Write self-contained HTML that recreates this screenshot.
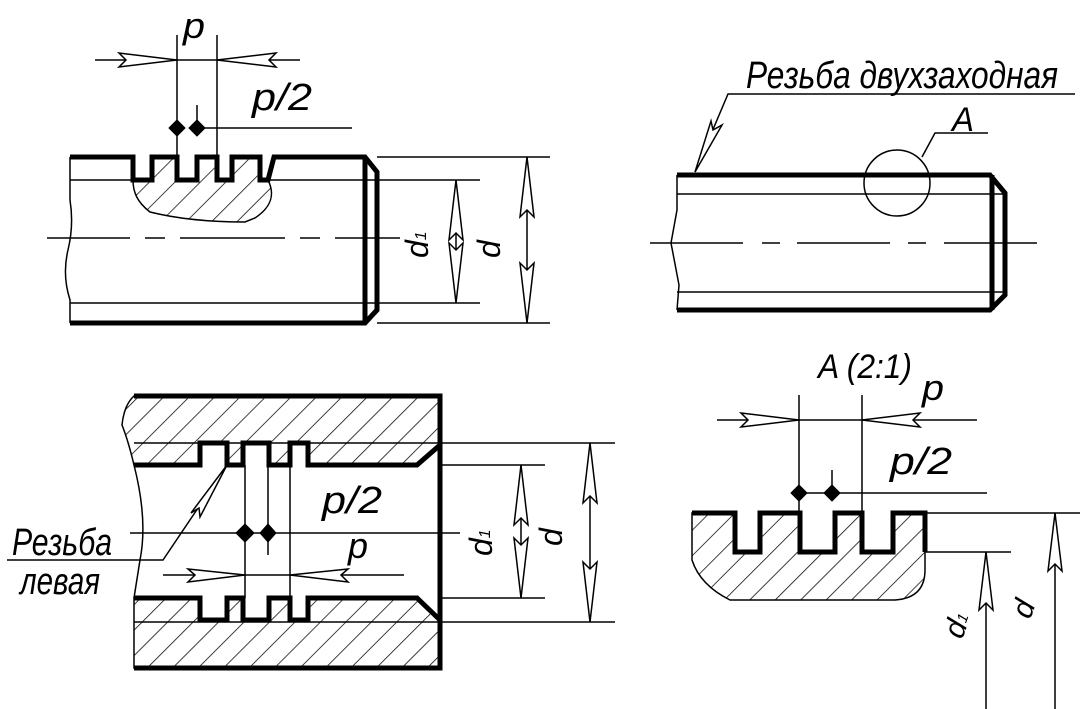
<!DOCTYPE html>
<html><head><meta charset="utf-8"><style>
html,body{margin:0;padding:0;background:#fff;}
svg{display:block;}
text{font-family:"Liberation Sans","DejaVu Sans",sans-serif;font-style:italic;fill:#000;}
</style></head><body>
<svg width="1085" height="709" viewBox="0 0 1085 709" xmlns="http://www.w3.org/2000/svg">
<defs>
<pattern id="h" patternUnits="userSpaceOnUse" width="18" height="18" patternTransform="rotate(45)">
<line x1="0" y1="0" x2="0" y2="18" stroke="#000" stroke-width="1.5"/>
</pattern>
</defs>
<g fill="none" stroke="#000" stroke-linejoin="miter">

<!-- ============ TOP LEFT ============ -->
<path d="M133,180 L152,180 L152,157 L177,157 L177,180 L197,180 L197,157 L217,157 L217,180 L232,180 L232,157 L260,157 L260,180 L268,180 C276,196 270,208 255,218 L245,222 Q190,222 150,212 C137,202 133,192 133,180 Z" fill="url(#h)" stroke-width="1.5"/>
<path d="M70,157 L133,157 L133,180 L152,180 L152,157 L177,157 L177,180 L197,180 L197,157 L217,157 L217,180 L232,180 L232,157 L260,157 L260,180 L268,180 L274,157 L365,157 L377,172 L377,310 L365,323 L70,323" stroke-width="5"/>
<line x1="365" y1="157" x2="365" y2="323" stroke-width="5"/>
<path d="M70,157 L70,200 Q74,225 68,250 Q62,275 70,300 L70,323" stroke-width="1.5"/>
<line x1="70" y1="180" x2="133" y2="180" stroke-width="1.5"/>
<line x1="268" y1="180" x2="480" y2="180" stroke-width="1.5"/>
<line x1="70" y1="303" x2="480" y2="303" stroke-width="1.5"/>
<line x1="377" y1="157" x2="550" y2="157" stroke-width="1.5"/>
<line x1="377" y1="323" x2="550" y2="323" stroke-width="1.5"/>
<path d="M47,238 L130,238 M145,238 L165,238 M180,238 L285,238 M300,238 L320,238 M335,238 L400,238" stroke-width="1.5"/>
<line x1="177" y1="35" x2="177" y2="157" stroke-width="1.5"/>
<line x1="217" y1="35" x2="217" y2="157" stroke-width="1.5"/>
<line x1="95" y1="60" x2="300" y2="60" stroke-width="1.5"/>
<path d="M177,60 L119,53 L126,60 L119,67 Z" fill="#fff" stroke-width="1.5"/>
<path d="M217,60 L276,53 L269,60 L276,67 Z" fill="#fff" stroke-width="1.5"/>
<line x1="197" y1="105" x2="197" y2="128" stroke-width="1.5"/>
<line x1="197" y1="128" x2="352" y2="128" stroke-width="1.5"/>
<path d="M177,120 L185,128 L177,136 L169,128 Z M197,120 L205,128 L197,136 L189,128 Z" fill="#000" stroke-width="1"/>
<line x1="456" y1="180" x2="456" y2="303" stroke-width="1.5"/>
<path d="M456,180 L449,240 L456,233 L463,240 Z M456,303 L449,243 L456,250 L463,243 Z" fill="#fff" stroke-width="1.5"/>
<line x1="527" y1="157" x2="527" y2="323" stroke-width="1.5"/>
<path d="M527,157 L520,217 L527,210 L534,217 Z M527,323 L520,263 L527,270 L534,263 Z" fill="#fff" stroke-width="1.5"/>

<!-- ============ TOP RIGHT ============ -->
<path d="M677,175 L990,175 L1005,193 L1005,295 L990,310 L677,310" stroke-width="5"/>
<line x1="992" y1="175" x2="992" y2="310" stroke-width="5"/>
<line x1="677" y1="194" x2="1005" y2="194" stroke-width="1.5"/>
<line x1="677" y1="292" x2="1005" y2="292" stroke-width="1.5"/>
<path d="M677,175 L677,210 L671,243 L679,285 L677,310" stroke-width="1.5"/>
<path d="M650,243 L743,243 M762,243 L780,243 M797,243 L890,243 M908,243 L926,243 M944,243 L1037,243" stroke-width="1.5"/>
<circle cx="897" cy="183" r="33" stroke-width="1.5"/>
<path d="M922,157 L935,133 L988,133" stroke-width="1.5"/>
<path d="M1075,94 L728,94 L695,172" stroke-width="1.5"/>
<path d="M695,172 L711,121 L713,130 L722,125 Z" fill="#fff" stroke-width="1.5"/>

<!-- ============ BOTTOM LEFT ============ -->
<path d="M134,396 L440,396 L440,445 L417,465 L308,465 L308,443 L290,443 L290,465 L269,465 L269,443 L243,443 L243,465 L227,465 L227,443 L200,443 L200,465 L134,465 Q128,440 122,425 Q124,405 134,396 Z" fill="url(#h)" stroke-width="1.5"/>
<path d="M134,598 L200,598 L200,620 L227,620 L227,598 L243,598 L243,620 L269,620 L269,598 L290,598 L290,620 L308,620 L308,598 L417,598 L440,620 L440,668 L134,668 Z" fill="url(#h)" stroke-width="1.5"/>
<path d="M134,396 L440,396 L440,668 L134,668" stroke-width="5"/>
<path d="M134,465 L200,465 L200,443 L227,443 L227,465 L243,465 L243,443 L269,443 L269,465 L290,465 L290,443 L308,443 L308,465 L417,465 L440,445" stroke-width="5"/>
<path d="M134,598 L200,598 L200,620 L227,620 L227,598 L243,598 L243,620 L269,620 L269,598 L290,598 L290,620 L308,620 L308,598 L417,598 L440,620" stroke-width="5"/>
<line x1="134" y1="443" x2="615" y2="443" stroke-width="1.5"/>
<line x1="134" y1="622" x2="615" y2="622" stroke-width="1.5"/>
<line x1="440" y1="465" x2="545" y2="465" stroke-width="1.5"/>
<line x1="440" y1="598" x2="545" y2="598" stroke-width="1.5"/>
<path d="M134,465 Q148,520 140,560 L134,598" stroke-width="1.5"/>
<line x1="245" y1="465" x2="245" y2="598" stroke-width="1.5"/>
<line x1="290" y1="465" x2="290" y2="598" stroke-width="1.5"/>
<line x1="268" y1="465" x2="268" y2="555" stroke-width="1.5"/>
<line x1="130" y1="533" x2="460" y2="533" stroke-width="1.5"/>
<path d="M245,524 L254,533 L245,542 L236,533 Z M268,524 L276,533 L268,542 L260,533 Z" fill="#000" stroke-width="1"/>
<line x1="163" y1="575" x2="404" y2="575" stroke-width="1.5"/>
<path d="M245,575 L188,569 L195,575 L188,582 Z" fill="#fff" stroke-width="1.5"/>
<path d="M290,575 L348,569 L341,575 L348,582 Z" fill="#fff" stroke-width="1.5"/>
<line x1="521" y1="465" x2="521" y2="598" stroke-width="1.5"/>
<path d="M521,465 L514,525 L521,518 L528,525 Z M521,598 L514,538 L521,545 L528,538 Z" fill="#fff" stroke-width="1.5"/>
<line x1="590" y1="443" x2="590" y2="622" stroke-width="1.5"/>
<path d="M590,443 L583,503 L590,496 L597,503 Z M590,622 L583,562 L590,569 L597,562 Z" fill="#fff" stroke-width="1.5"/>
<path d="M7,560 L163,560 L227,465" stroke-width="1.5"/>
<path d="M227,465 L191,513 L199,508 L200,517 Z" fill="#fff" stroke-width="1.5"/>

<!-- ============ BOTTOM RIGHT ============ -->
<path d="M692,513 L735,513 L735,552 L760,552 L760,513 L800,513 L800,552 L835,552 L835,513 L862,513 L862,552 L893,552 L893,513 L925,513 L925,570 Q925,598 895,600 L730,600 Q700,585 692,560 Z" fill="url(#h)" stroke-width="1.5"/>
<path d="M692,513 L735,513 L735,552 L760,552 L760,513 L800,513 L800,552 L835,552 L835,513 L862,513 L862,552 L893,552 L893,513 L925,513 L925,552" stroke-width="5"/>
<line x1="925" y1="513" x2="1080" y2="513" stroke-width="1.5"/>
<line x1="925" y1="552" x2="1011" y2="552" stroke-width="1.5"/>
<line x1="799" y1="395" x2="799" y2="513" stroke-width="1.5"/>
<line x1="862" y1="395" x2="862" y2="513" stroke-width="1.5"/>
<line x1="717" y1="420" x2="977" y2="420" stroke-width="1.5"/>
<path d="M799,420 L741,413 L748,420 L741,427 Z" fill="#fff" stroke-width="1.5"/>
<path d="M862,420 L920,413 L913,420 L920,427 Z" fill="#fff" stroke-width="1.5"/>
<line x1="832" y1="470" x2="832" y2="493" stroke-width="1.5"/>
<line x1="799" y1="493" x2="987" y2="493" stroke-width="1.5"/>
<path d="M799,485 L807,493 L799,501 L791,493 Z M832,485 L840,493 L832,501 L824,493 Z" fill="#000" stroke-width="1"/>
<line x1="986" y1="552" x2="986" y2="709" stroke-width="1.5"/>
<path d="M986,552 L979,610 L986,603 L993,610 Z" fill="#fff" stroke-width="1.5"/>
<line x1="1055" y1="513" x2="1055" y2="709" stroke-width="1.5"/>
<path d="M1055,513 L1048,571 L1055,564 L1062,571 Z" fill="#fff" stroke-width="1.5"/>
</g>

<!-- TEXT -->
<text x="183" y="38" font-size="36" textLength="22" lengthAdjust="spacingAndGlyphs">p</text>
<text x="252" y="110" font-size="38" textLength="60" lengthAdjust="spacingAndGlyphs">p/2</text>
<text transform="translate(428,258) rotate(-90)" font-size="32">d<tspan font-size="16" dy="-2">1</tspan></text>
<text transform="translate(500,258) rotate(-90)" font-size="32">d</text>

<text x="746" y="88" font-size="38" textLength="312" lengthAdjust="spacingAndGlyphs">Резьба двухзаходная</text>
<text x="952" y="131" font-size="34" textLength="22" lengthAdjust="spacingAndGlyphs">A</text>

<text x="322" y="513" font-size="38" textLength="60" lengthAdjust="spacingAndGlyphs">p/2</text>
<text x="348" y="558" font-size="36" textLength="20" lengthAdjust="spacingAndGlyphs">p</text>
<text transform="translate(492,556) rotate(-90)" font-size="32">d<tspan font-size="16" dy="-2">1</tspan></text>
<text transform="translate(562,546) rotate(-90)" font-size="32">d</text>
<text x="12" y="555" font-size="38" textLength="100" lengthAdjust="spacingAndGlyphs">Резьба</text>
<text x="20" y="594" font-size="38" textLength="80" lengthAdjust="spacingAndGlyphs">левая</text>

<text x="818" y="378" font-size="34" textLength="94" lengthAdjust="spacingAndGlyphs">A  (2:1)</text>
<text x="922" y="400" font-size="36" textLength="22" lengthAdjust="spacingAndGlyphs">p</text>
<text x="890" y="474" font-size="38" textLength="62" lengthAdjust="spacingAndGlyphs">p/2</text>
<text transform="translate(962,640) rotate(-70)" font-size="30">d<tspan font-size="15" dy="-2">1</tspan></text>
<text transform="translate(1030,620) rotate(-70)" font-size="30">d</text>
</svg>
</body></html>
